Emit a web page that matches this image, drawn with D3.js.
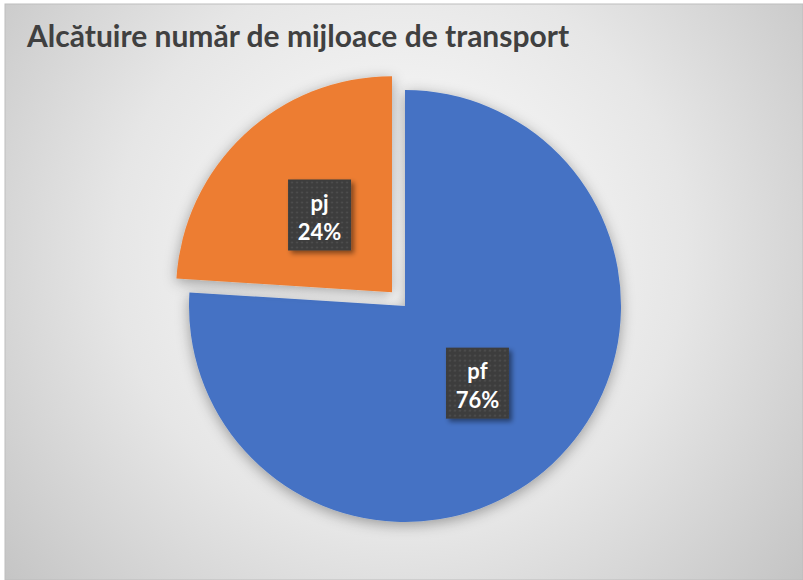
<!DOCTYPE html>
<html><head><meta charset="utf-8">
<script src="https://cdn.jsdelivr.net/npm/d3@7"></script>
<style>html,body{margin:0;padding:0;background:#fff;}svg{display:block;}</style>
</head><body>
<script>
const categories = ["pf", "pj"];
const values = [76, 24];
const colors = ["#4472C4", "#ED7D31"];
const title = "Alcătuire număr de mijloace de transport";

const W = 803, H = 580;
const svg = d3.select("body").append("svg").attr("width", W).attr("height", H);
const defs = svg.append("defs");

const rg = defs.append("radialGradient").attr("id", "bg")
  .attr("gradientUnits", "userSpaceOnUse").attr("cx", 400).attr("cy", 250).attr("r", 520);
rg.append("stop").attr("offset", "0%").attr("stop-color", "#ffffff");
rg.append("stop").attr("offset", "55%").attr("stop-color", "#e6e6e6");
rg.append("stop").attr("offset", "100%").attr("stop-color", "#c4c4c4");

const sh = defs.append("filter").attr("id", "pieShadow").attr("x", "-20%").attr("y", "-20%").attr("width", "140%").attr("height", "140%");
sh.append("feDropShadow").attr("dx", 0).attr("dy", 3).attr("stdDeviation", 7).attr("flood-color", "#000").attr("flood-opacity", 0.35);

const lsh = defs.append("filter").attr("id", "lblShadow").attr("x", "-30%").attr("y", "-30%").attr("width", "160%").attr("height", "160%");
lsh.append("feDropShadow").attr("dx", 3).attr("dy", 3).attr("stdDeviation", 2.5).attr("flood-color", "#000").attr("flood-opacity", 0.45);

const pat = defs.append("pattern").attr("id", "dots").attr("patternUnits", "userSpaceOnUse").attr("width", 5).attr("height", 5);
pat.append("rect").attr("width", 5).attr("height", 5).attr("fill", "#3d3d3d");
pat.append("circle").attr("cx", 2.5).attr("cy", 2.5).attr("r", 0.9).attr("fill", "#555555");

svg.append("rect").attr("x", 5).attr("y", 4).attr("width", W - 5).attr("height", H - 4)
  .attr("fill", "url(#bg)").attr("stroke", "#bdbdbd").attr("stroke-width", 1);

svg.append("text").attr("x", 27).attr("y", 47)
  .attr("font-family", "Lato, 'Open Sans', sans-serif").attr("font-weight", "bold")
  .attr("font-size", 30).attr("fill", "#404040").text(title);

const cx = 405, cy = 306, R = 216, explode = 19;
const pie = d3.pie().sort(null).value(d => d.v);
const data = pie(categories.map((c, i) => ({ c, v: values[i], col: colors[i] })));
const total = d3.sum(values);
const arc = d3.arc().innerRadius(0).outerRadius(R);

const g = svg.append("g").attr("transform", `translate(${cx},${cy})`);
const slices = g.selectAll("g.slice").data(data).enter().append("g")
  .attr("transform", d => {
    if (d.data.c !== "pj") return null;
    const a = (d.startAngle + d.endAngle) / 2;
    return `translate(${Math.sin(a) * explode},${-Math.cos(a) * explode})`;
  });
slices.append("path").attr("d", arc).attr("fill", d => d.data.col).attr("filter", "url(#pieShadow)");

const labelArc = d3.arc().innerRadius(R * 0.49).outerRadius(R * 0.49);
slices.each(function (d) {
  const [lx, ly] = labelArc.centroid(d);
  const lg = d3.select(this).append("g").attr("transform", `translate(${lx},${ly})`);
  lg.append("rect").attr("x", -31.5).attr("y", -35.5).attr("width", 63).attr("height", 71)
    .attr("fill", "url(#dots)").attr("filter", "url(#lblShadow)");
  lg.append("text").attr("y", -4).attr("text-anchor", "middle")
    .attr("font-family", "Lato, 'Open Sans', sans-serif").attr("font-weight", "bold")
    .attr("font-size", 22).attr("fill", "#ffffff").text(d.data.c);
  lg.append("text").attr("y", 25).attr("text-anchor", "middle")
    .attr("font-family", "Lato, 'Open Sans', sans-serif").attr("font-weight", "bold")
    .attr("font-size", 22).attr("fill", "#ffffff")
    .text(Math.round(d.data.v / total * 100) + "%");
});
</script>
</body></html>
